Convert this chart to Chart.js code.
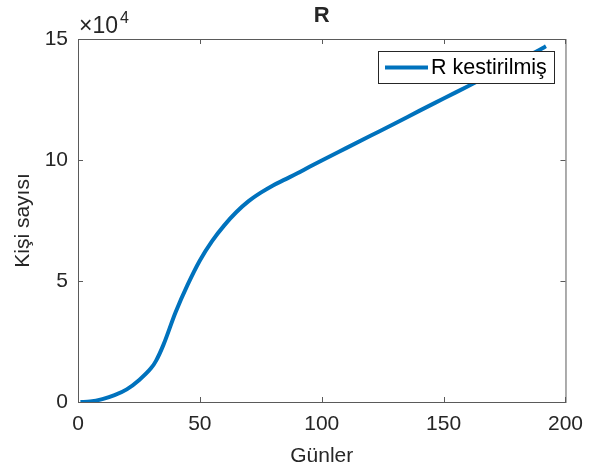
<!DOCTYPE html>
<html>
<head>
<meta charset="utf-8">
<script src="https://cdn.jsdelivr.net/npm/chart.js@4.4.0/dist/chart.umd.min.js"></script>
<style>
  html, body { margin: 0; padding: 0; background: #fff; }
  #wrap { width: 593px; height: 472px; position: relative; }
</style>
</head>
<body>
<div id="wrap"><canvas id="r-chart"></canvas></div>
<script>
const days = [1, 5, 10, 15, 20, 25, 30, 32, 35, 40, 45, 50, 55, 60, 65, 70, 75, 80, 85, 90, 95, 100,
              110, 120, 130, 140, 150, 160, 170, 180, 190, 192];
const rValues = [0, 200, 1200, 2800, 5200, 9000, 14000, 17000, 23500, 37000, 48500, 58500, 66500, 73000,
                 78500, 83000, 86500, 89500, 92000, 94500, 97200, 99800,
                 104900, 110000, 115100, 120300, 125400, 130500, 135600, 140800, 145900, 147000];
const xTicks = [0, 50, 100, 150, 200];
const yTicks = [0, 50000, 100000, 150000];

const FONT = '"Liberation Sans", Arial, sans-serif';
const TEXT = '#262626';
const AXIS = '#5a5a5a';
const BLUE = '#0072BD';

const matlabAxes = {
    id: 'matlabAxes',
    afterDraw(chart) {
        const { ctx, chartArea: a, scales } = chart;
        ctx.save();
        // box around the axes
        ctx.strokeStyle = AXIS;
        ctx.lineWidth = 1;
        ctx.strokeRect(a.left + 0.5, a.top + 0.5, a.right - a.left, a.bottom - a.top);
        // inward tick marks
        const len = 5;
        ctx.beginPath();
        xTicks.forEach(v => {
            const x = Math.round(scales.x.getPixelForValue(v)) + 0.5;
            ctx.moveTo(x, a.bottom); ctx.lineTo(x, a.bottom - len);
            ctx.moveTo(x, a.top); ctx.lineTo(x, a.top + len);
        });
        yTicks.forEach(v => {
            const y = Math.round(scales.y.getPixelForValue(v)) + 0.5;
            ctx.moveTo(a.left, y); ctx.lineTo(a.left + len, y);
            ctx.moveTo(a.right, y); ctx.lineTo(a.right - len, y);
        });
        ctx.stroke();

        // exponent label
        ctx.fillStyle = TEXT;
        ctx.textBaseline = 'alphabetic';
        ctx.textAlign = 'left';
        ctx.font = '23px ' + FONT;
        ctx.fillText('\u00d710', a.left + 1, a.top - 6);
        const w = ctx.measureText('\u00d710').width;
        ctx.font = '16px ' + FONT;
        ctx.fillText('4', a.left + 2 + w + 1, a.top - 16);

        // title
        ctx.font = 'bold 22px ' + FONT;
        ctx.textAlign = 'center';
        ctx.fillText('R', (a.left + a.right) / 2, a.top - 17);

        // legend box
        const ds = chart.data.datasets[0];
        const bx = 378, by = 51, bw = 176, bh = 32;
        ctx.fillStyle = '#fff';
        ctx.fillRect(bx, by, bw, bh);
        ctx.strokeStyle = '#262626';
        ctx.lineWidth = 1;
        ctx.strokeRect(bx + 0.5, by + 0.5, bw, bh);
        ctx.strokeStyle = BLUE;
        ctx.lineWidth = 4;
        ctx.beginPath();
        ctx.moveTo(bx + 7, by + bh / 2 + 0.5);
        ctx.lineTo(bx + 50, by + bh / 2 + 0.5);
        ctx.stroke();
        ctx.fillStyle = '#000';
        ctx.font = '21.5px ' + FONT;
        ctx.textAlign = 'left';
        ctx.textBaseline = 'middle';
        ctx.fillText(ds.label, bx + 53, by + bh / 2 + 1);
        ctx.restore();
    }
};

document.addEventListener('DOMContentLoaded', () => {
    const ctx = document.getElementById('r-chart').getContext('2d');
    new Chart(ctx, {
        type: 'line',
        data: {
            datasets: [{
                label: 'R kestirilmiş',
                data: days.map((d, i) => ({ x: d, y: rValues[i] })),
                borderColor: BLUE,
                borderWidth: 4,
                pointRadius: 0,
                cubicInterpolationMode: 'monotone',
                fill: false
            }]
        },
        options: {
            responsive: true,
            maintainAspectRatio: false,
            animation: false,
            layout: { padding: { left: 0, top: 39, right: 27, bottom: 0 } },
            plugins: {
                legend: { display: false },
                tooltip: { enabled: false }
            },
            scales: {
                x: {
                    type: 'linear',
                    min: 0,
                    max: 200,
                    afterFit: s => { s.height = 70; },
                    afterBuildTicks: s => { s.ticks = xTicks.map(v => ({ value: v })); },
                    grid: { display: false, drawTicks: false },
                    border: { display: false },
                    ticks: { color: TEXT, font: { family: FONT, size: 21 }, padding: 10, maxRotation: 0 },
                    title: { display: true, text: 'Günler', color: TEXT, font: { family: FONT, size: 21 }, padding: { top: 0, bottom: 3 } }
                },
                y: {
                    min: 0,
                    max: 150000,
                    afterFit: s => { s.width = 78; },
                    afterBuildTicks: s => { s.ticks = yTicks.map(v => ({ value: v })); },
                    grid: { display: false, drawTicks: false },
                    border: { display: false },
                    ticks: {
                        color: TEXT,
                        font: { family: FONT, size: 21 },
                        padding: 10,
                        callback: v => v / 10000
                    },
                    title: { display: true, text: 'Kişi sayısı', color: TEXT, font: { family: FONT, size: 21 }, padding: { top: 11, bottom: 0 } }
                }
            }
        },
        plugins: [matlabAxes]
    });
});
</script>
</body>
</html>
